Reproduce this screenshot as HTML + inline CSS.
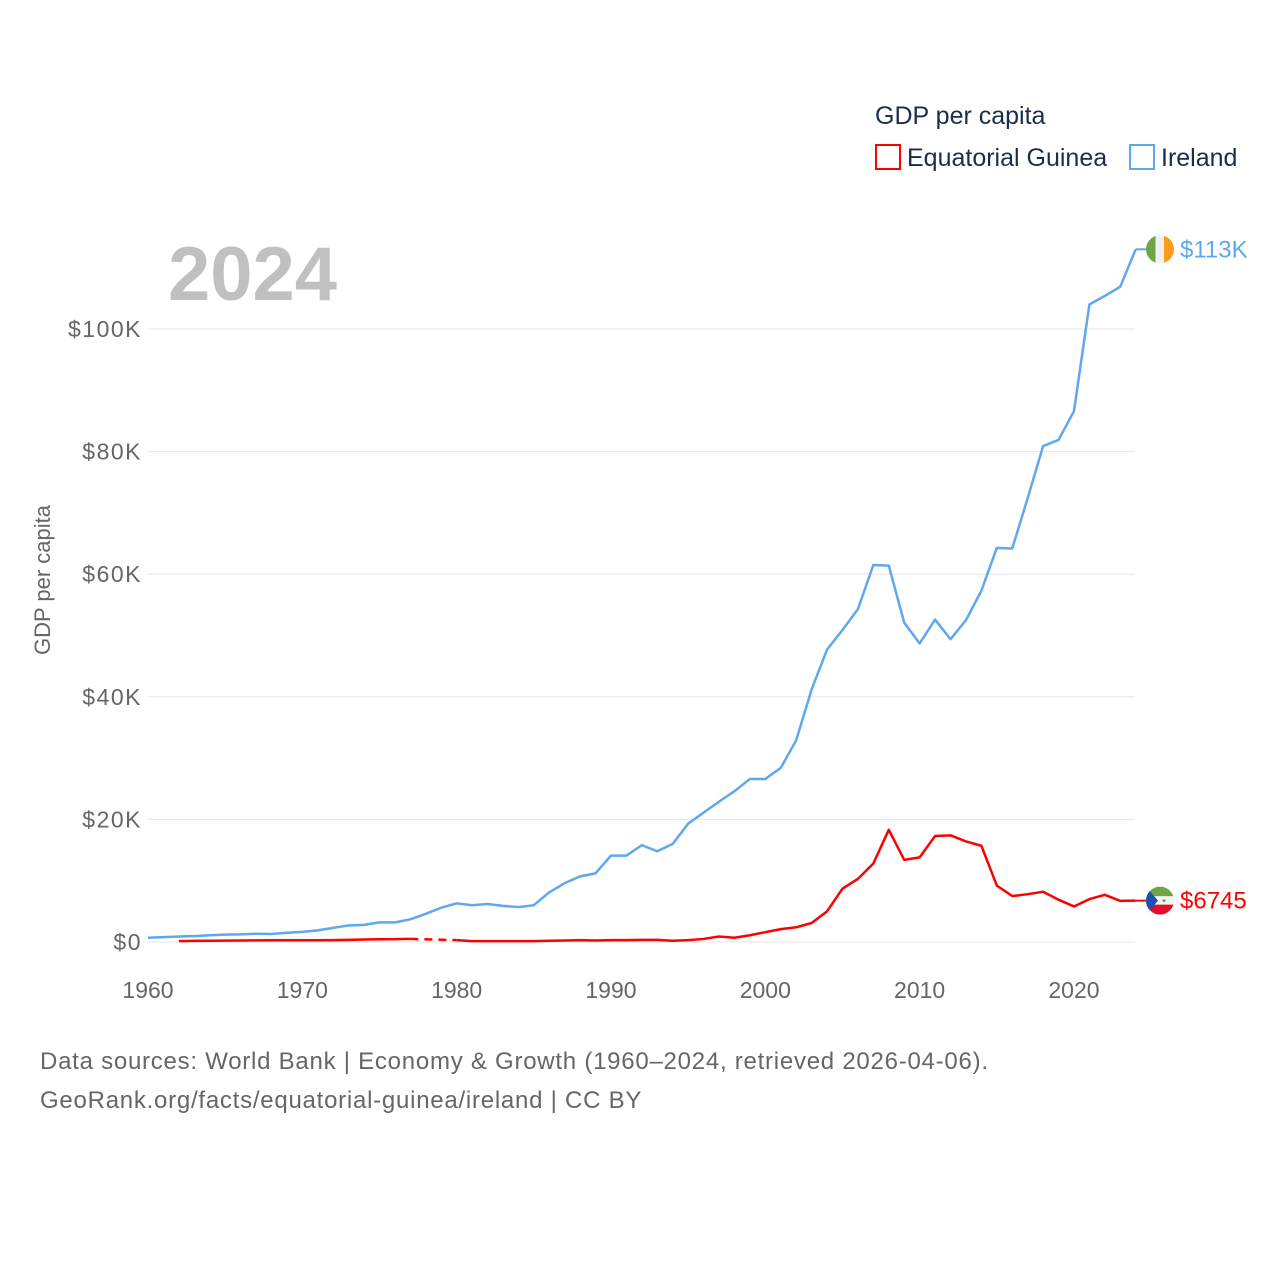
<!DOCTYPE html>
<html><head><meta charset="utf-8"><style>
html,body{margin:0;padding:0;background:#fff;}
body{width:1280px;height:1280px;position:relative;overflow:hidden;font-family:"Liberation Sans",sans-serif;}
svg text{font-family:"Liberation Sans",sans-serif;}
</style></head><body>
<svg id="chart" width="1280" height="1280" xmlns="http://www.w3.org/2000/svg">
<g id="grid"></g>
<g id="yticks"></g>
<g id="xticks"></g>
<text x="168" y="300" font-size="76" font-weight="bold" fill="#c0c0c0">2024</text>
<text transform="translate(50,580) rotate(-90)" text-anchor="middle" font-size="22" fill="#666">GDP per capita</text>
<g id="series"></g>
<g>
<text x="875" y="124" font-size="25" fill="#1a2e4a">GDP per capita</text>
<rect x="876" y="145" width="24" height="24" fill="none" stroke="#ff0000" stroke-width="2"/>
<text x="907" y="166" font-size="25" fill="#1a2e4a">Equatorial Guinea</text>
<rect x="1130" y="145" width="24" height="24" fill="none" stroke="#5fa8ee" stroke-width="2"/>
<text x="1161" y="166" font-size="25" fill="#1a2e4a">Ireland</text>
</g>
<text x="40" y="1069" font-size="24" letter-spacing="0.75" fill="#666">Data sources: World Bank | Economy &amp; Growth (1960–2024, retrieved 2026-04-06).</text>
<text x="40" y="1108" font-size="24" letter-spacing="0.75" fill="#666">GeoRank.org/facts/equatorial-guinea/ireland | CC BY</text>
</svg>
<script>
const years = [];
for (let y = 1960; y <= 2024; y++) years.push(y);
const irelandValues = [0.7,0.8,0.9,0.95,1.1,1.2,1.25,1.35,1.3,1.5,1.65,1.9,2.3,2.7,2.8,3.2,3.2,3.7,4.6,5.6,6.3,6.0,6.2,5.9,5.7,6.0,8.1,9.6,10.7,11.2,14.1,14.1,15.8,14.8,16.0,19.3,21.1,22.9,24.6,26.6,26.6,28.4,32.9,41.2,47.7,50.9,54.3,61.5,61.4,52.1,48.7,52.6,49.4,52.5,57.3,64.3,64.2,72.4,80.9,81.9,86.6,104.0,105.4,106.9,113.0];
const eqGuineaValues = [null,null,0.15,0.18,0.2,0.22,0.25,0.27,0.28,0.28,0.28,0.28,0.3,0.35,0.4,0.45,0.47,0.5,null,null,0.3,0.15,0.15,0.15,0.15,0.15,0.2,0.25,0.3,0.25,0.3,0.3,0.35,0.35,0.2,0.3,0.5,0.9,0.7,1.1,1.6,2.1,2.4,3.1,5.0,8.7,10.3,12.8,18.3,13.4,13.8,17.3,17.4,16.4,15.7,9.2,7.5,7.8,8.2,6.9,5.8,7.0,7.7,6.7,6.745];
const yTicks = [0,20,40,60,80,100];
const yTickLabels = ["$0","$20K","$40K","$60K","$80K","$100K"];
const xTicks = [1960,1970,1980,1990,2000,2010,2020];
const endLabels = ["$113K","$6745"];

const NS = "http://www.w3.org/2000/svg";
const X0 = 148, X1 = 1135.7, Y0 = 942, PXK = 6.13;
const xs = y => X0 + (y - 1960) * (X1 - X0) / 64;
const ys = v => Y0 - v * PXK;
function mk(tag, attrs, parent) {
  const e = document.createElementNS(NS, tag);
  for (const k in attrs) e.setAttribute(k, attrs[k]);
  parent.appendChild(e); return e;
}
const grid = document.getElementById('grid'), yt = document.getElementById('yticks'), xt = document.getElementById('xticks'), ser = document.getElementById('series');
yTicks.forEach((v, i) => {
  const l = mk('line', {x1: X0, x2: 1135, y1: ys(v), y2: ys(v), stroke: '#e6e6e6', 'stroke-width': 1}, grid);
  
  
  const t = mk('text', {x: 142, y: ys(v) + 8, 'text-anchor': 'end', 'font-size': 23, 'letter-spacing': 1.5, fill: '#666'}, yt);
  t.textContent = yTickLabels[i];
  
  
});
xTicks.forEach(y => {
  const t = mk('text', {x: xs(y), y: 998, 'text-anchor': 'middle', 'font-size': 23, fill: '#666'}, xt);
  t.textContent = y;
  
  
});
function drawSeries(vals, color, name) {
  let seg = [], prev = null;
  const solids = [];
  vals.forEach((v, i) => {
    if (v == null) { if (seg.length) solids.push(seg); seg = []; return; }
    const p = [xs(years[i]), ys(v)];
    if (!seg.length && prev && prev.i < i - 1) {
      const d = mk('line', {x1: prev.p[0], y1: prev.p[1], x2: p[0], y2: p[1], stroke: color, 'stroke-width': 2.5, 'stroke-dasharray': '8,6'}, ser);
      
      
    }
    seg.push(p); prev = {p, i};
  });
  if (seg.length) solids.push(seg);
  solids.forEach(s => {
    const pl = mk('polyline', {points: s.map(p => p.join(',')).join(' '), fill: 'none', stroke: color, 'stroke-width': 2.5, 'stroke-linejoin': 'round'}, ser);
    
    
  });
}
drawSeries(irelandValues, '#5fa8ee', 'ireland');
drawSeries(eqGuineaValues, '#ff0000', 'equatorial-guinea');

const last = years.length - 1;
function endMarker(v, color, label, name, flag) {
  const y = ys(v);
  const c = mk('line', {x1: X1, y1: y, x2: 1150, y2: y, stroke: color, 'stroke-width': 2}, ser);
  
  
  const g = mk('g', {}, ser);
  
  
  flag(g, 1160, y);
  const t = mk('text', {x: 1180, y: y + 8, 'font-size': 24, fill: color}, ser);
  t.textContent = label;
  
  
}
endMarker(irelandValues[last], '#5fa8ee', endLabels[0], 'ireland', (g, cx, cy) => {
  const cp = mk('clipPath', {id: 'cIE'}, g); mk('circle', {cx, cy, r: 14}, cp);
  const gg = mk('g', {'clip-path': 'url(#cIE)'}, g);
  mk('rect', {x: cx - 14, y: cy - 14, width: 10, height: 28, fill: '#6ea646'}, gg);
  mk('rect', {x: cx - 4.5, y: cy - 14, width: 9, height: 28, fill: '#f0f0f0'}, gg);
  mk('rect', {x: cx + 4, y: cy - 14, width: 10, height: 28, fill: '#ff9b1a'}, gg);
});
endMarker(eqGuineaValues[last], '#ff0000', endLabels[1], 'equatorial-guinea', (g, cx, cy) => {
  const cp = mk('clipPath', {id: 'cGQ'}, g); mk('circle', {cx, cy, r: 14}, cp);
  const gg = mk('g', {'clip-path': 'url(#cGQ)'}, g);
  mk('rect', {x: cx - 14, y: cy - 14, width: 28, height: 10, fill: '#6ea646'}, gg);
  mk('rect', {x: cx - 14, y: cy - 4.5, width: 28, height: 9, fill: '#f4f4f4'}, gg);
  mk('rect', {x: cx - 14, y: cy + 4, width: 28, height: 10, fill: '#e3102c'}, gg);
  mk('polygon', {points: `${cx-14},${cy-14} ${cx-2},${cy} ${cx-14},${cy+14}`, fill: '#1b4fb0'}, gg);
  mk('circle', {cx: cx + 4, cy, r: 1.5, fill: '#6ea646'}, gg);
});
</script>
</body></html>
